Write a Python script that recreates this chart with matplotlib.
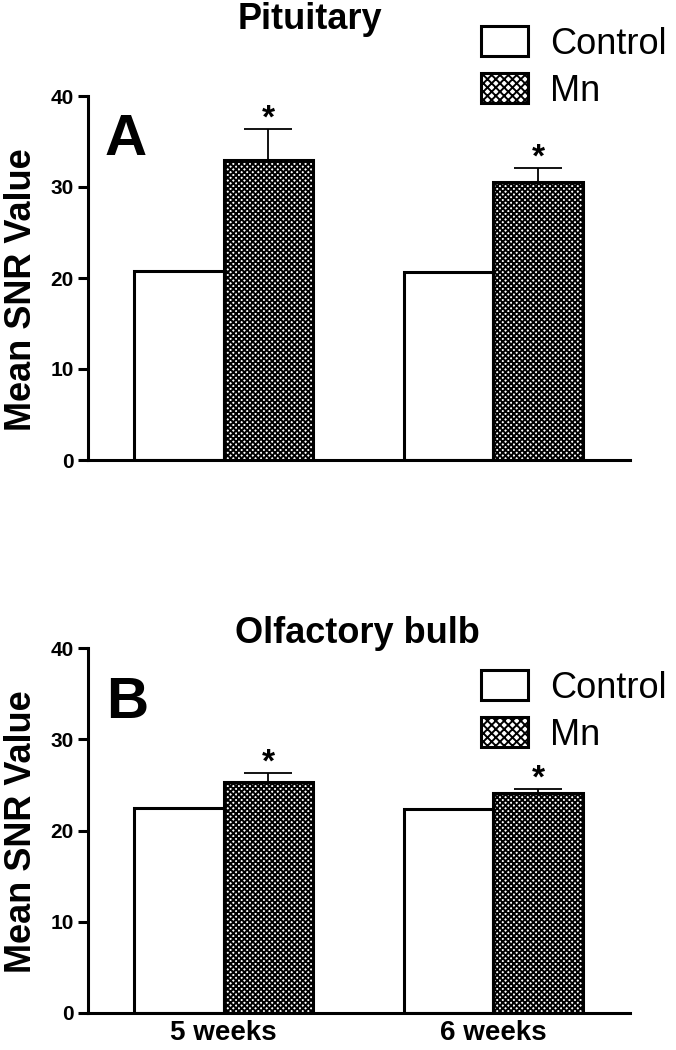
import numpy as np
import matplotlib
matplotlib.use("Agg")
import matplotlib.pyplot as plt
from matplotlib.patches import Patch

plt.rcParams['font.family'] = ['Liberation Sans', 'DejaVu Sans']
plt.rcParams['hatch.linewidth'] = 1.4

groups = ["5 weeks", "6 weeks"]
series = ["Control", "Mn"]

pit_control = [20.8, 20.7]
pit_mn = [33.0, 30.6]
pit_mn_err = [3.4, 1.5]

olf_control = [22.5, 22.4]
olf_mn = [25.3, 24.1]
olf_mn_err = [1.0, 0.4]

W, H = 676, 1050
fig = plt.figure(figsize=(W / 100, H / 100), dpi=100)
ax_a = fig.add_axes([88 / W, 1 - 460 / H, 542 / W, 364 / H])
ax_b = fig.add_axes([88 / W, 1 - 1013 / H, 542 / W, 365 / H])

x = np.arange(len(groups))
w = 0.333


def draw_panel(ax, ctrl, mn, err, title, letter, show_x, title_xy, letter_xy, leg_top, ylab_y):
    ax.bar(x - w / 2, ctrl, w, color='white', edgecolor='black', linewidth=2.2, zorder=2)
    ax.bar(x + w / 2, mn, w, color='white', edgecolor='black', hatch='xxxxxx',
           linewidth=2.2, zorder=2)
    ax.errorbar(x + w / 2, mn, yerr=[np.zeros(len(err)), err], fmt='none',
                ecolor='black', elinewidth=1.3, capsize=17, capthick=1.3, zorder=1)
    for xi, m, e in zip(x, mn, err):
        ax.annotate('*', (xi + w / 2, m + e), xytext=(0, 1), textcoords='offset points',
                    ha='center', va='baseline', fontsize=24, fontweight='bold')
    ax.set_ylim(0, 40)
    ax.set_xlim(-0.502, 1.506)
    ax.set_yticks([0, 10, 20, 30, 40])
    for s in ['top', 'right']:
        ax.spines[s].set_visible(False)
    for s in ['left', 'bottom']:
        ax.spines[s].set_linewidth(2.2)
    ax.tick_params(axis='y', direction='out', length=7.2, width=2.2, labelsize=15, pad=3)
    for lab in ax.get_yticklabels():
        lab.set_fontweight('bold')
    if show_x:
        ax.set_xticks(x)
        ax.set_xticklabels(groups, fontsize=20, fontweight='bold')
        ax.tick_params(axis='x', length=0, pad=5)
    else:
        ax.set_xticks([])
    fig.text(22 / W, 1 - ylab_y / H, 'Mean SNR Value', rotation=90, ha='center', va='center',
             fontsize=26, fontweight='bold')
    fig.text(letter_xy[0] / W, 1 - letter_xy[1] / H, letter, fontsize=42,
             fontweight='bold', va='baseline', ha='left')
    fig.text(title_xy[0] / W, 1 - title_xy[1] / H, title, ha='center', va='baseline',
             fontsize=26, fontweight='bold')
    handles = [Patch(facecolor='white', edgecolor='black', linewidth=2.2, label=series[0]),
               Patch(facecolor='white', edgecolor='black', linewidth=2.2, hatch='xxxx',
                     label=series[1])]
    fig.legend(handles=handles, loc='upper left', bbox_to_anchor=(481 / W, 1 - leg_top / H),
               frameon=False, fontsize=26, handlelength=1.3, handleheight=0.91,
               handletextpad=0.62, labelspacing=0.32, borderaxespad=0, borderpad=0)


draw_panel(ax_a, pit_control, pit_mn, pit_mn_err, 'Pituitary', 'A', False,
           (310, 29), (105, 155), 26, 290)
draw_panel(ax_b, olf_control, olf_mn, olf_mn_err, 'Olfactory bulb', 'B', True,
           (357, 643), (106, 718), 670, 832)

fig.savefig('out.png', dpi=100)
